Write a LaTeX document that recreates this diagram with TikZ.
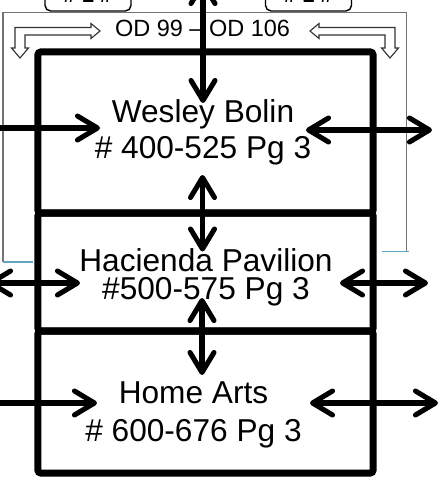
\documentclass[tikz,border=0pt]{standalone}
\usepackage{fontspec}
\setmainfont{Liberation Sans}
\usetikzlibrary{arrows.meta}

\begin{document}
\begin{tikzpicture}[x=0.025cm,y=-0.025cm,
 >={Straight Barb[length=5mm,width=6mm,round]},
 room/.style={draw,line width=5pt,rounded corners=2pt,
 minimum width=8.375cm,inner sep=0pt},
 roomtext/.style={align=center,inner sep=0pt},
 link/.style={line width=3.6pt},
 tag/.style={draw,line width=1pt,rounded corners=4pt,fill=white,
 minimum width=2.15cm,text height=1cm,text depth=0pt,inner ysep=0.21cm,
 font=\fontsize{15.6}{18}\selectfont\bfseries},
 hollow/.style={draw=black!80,line width=0.8pt,fill=white},
 frame/.style={black!55,line width=0.8pt}]
\useasboundingbox (0,0) rectangle (441,487);
\clip (0,0) rectangle (441,487);
% thin frame round the rooms
\draw[frame] (3,262) -- (3,12.7) -- (406.5,12.7) -- (406.5,251);
\draw[blue!35!cyan!60!black!60,line width=0.8pt] (3,262) -- (33,262);
\draw[blue!35!cyan!60!black!60,line width=0.8pt] (381.5,251.5) -- (409,251.5);
\node[tag,anchor=south] (tagleft) at (88,11.7) {\# 1 \#};
\node[tag,anchor=south] (tagright) at (308.5,11.7) {\# 1 \#};
% rooms
\node[room,minimum height=4.025cm] (wesley) at (205.5,132.5) {};
\node[room,minimum height=2.95cm] (hacienda) at (205.5,272) {};
\node[room,minimum height=3.55cm] (homearts) at (205.5,402) {};
\node[roomtext,font=\fontsize{22.5}{25.6}\selectfont] (wesleytxt)
 at (203,132.7) {Wesley Bolin\\\# 400-525 Pg 3};
\node[roomtext,font=\fontsize{22.5}{20.1}\selectfont] (haciendatxt)
 at (206,277.5) {Hacienda Pavilion\\\#500-575 Pg 3};
\node[roomtext,font=\fontsize{22.5}{26.8}\selectfont] (homeartstxt)
 at (193.5,414.9) {Home Arts\\\# 600-676 Pg 3};
\node[anchor=base,inner sep=0pt,font=\fontsize{16.7}{20}\selectfont]
 (odrange) at (202.5,36.7) {OD 99 -- OD 106};
% hollow corner arrows
\draw[hollow] (100,31) -- (91,23.5) -- (91,27.5) -- (15,27.5) -- (15,48)
 -- (11.5,48) -- (20,58) -- (28.5,48) -- (25,48) -- (25,35) -- (91,35)
 -- (91,38.5) -- cycle;
\draw[hollow] (310,31) -- (319,23.5) -- (319,27.5) -- (395,27.5) -- (395,48)
 -- (398.5,48) -- (390,58) -- (381.5,48) -- (385,48) -- (385,35) -- (319,35)
 -- (319,38.5) -- cycle;
% arrow ends
\coordinate (topin) at (203,-19);
\coordinate (wtop) at (203,103);
\coordinate (wbot) at (202.5,175);
\coordinate (htop) at (202.5,251.5);
\coordinate (hbot) at (202,298);
\coordinate (atop) at (202,375);
\coordinate (wleftin) at (-5,128);
\coordinate (wleft) at (100,128);
\coordinate (wright) at (306,130);
\coordinate (wrightout) at (432,130);
\coordinate (hleftout) at (-12,283);
\coordinate (hleft) at (80,283);
\coordinate (hright) at (340,283);
\coordinate (hrightout) at (428,283);
\coordinate (aleftin) at (-5,403);
\coordinate (aleft) at (97,403);
\coordinate (aright) at (310,403);
\coordinate (arightout) at (438,403);
\draw[link,<->] (topin) -- (wtop);
\draw[link,<->] (wbot) -- (htop);
\draw[link,<->] (hbot) -- (atop);
\draw[link,->] (wleftin) -- (wleft);
\draw[link,<->] (wright) -- (wrightout);
\draw[link,<->] (hleftout) -- (hleft);
\draw[link,<->] (hright) -- (hrightout);
\draw[link,->] (aleftin) -- (aleft);
\draw[link,<->] (aright) -- (arightout);
\end{tikzpicture}
\end{document}
